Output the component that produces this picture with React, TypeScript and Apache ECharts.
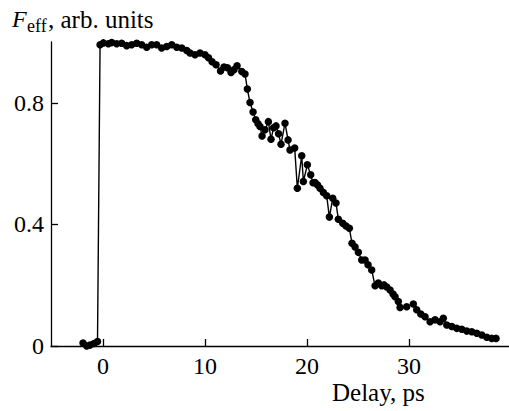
import React, { useEffect, useRef } from "react";
import * as echarts from "echarts";

const delays: number[] = [
  -1.96, -1.6, -1.27, -0.88, -0.54,
  -0.29, 0.03, 0.52, 0.85, 1.34, 1.83, 2.32, 2.81, 3.3, 3.79, 4.28, 4.77, 5.26, 5.75, 6.25,
  6.74, 7.23, 7.72, 8.21, 8.53, 9.02, 9.51, 10.0, 10.34, 10.69, 11.08, 11.52, 11.86, 12.2,
  12.55, 12.84, 13.14, 13.6, 13.92, 14.15, 14.41, 14.71, 14.97, 15.2, 15.39, 15.59, 15.88,
  16.21, 16.47, 16.72, 16.96, 17.21, 17.45, 17.84, 18.14, 18.33, 18.79, 19.05, 19.48, 19.64,
  20.03, 20.36, 20.59, 20.78, 21.03, 21.27, 21.6, 21.93, 22.19, 22.52, 22.84, 23.07, 23.5,
  23.82, 24.15, 24.41, 24.71, 25.03, 25.36, 25.69, 25.98, 26.34, 26.67, 26.99, 27.32, 27.55,
  27.81, 28.14, 28.43, 28.63, 28.95, 29.12, 29.77, 30.42, 30.75, 31.15, 31.57, 32.06, 32.55,
  33.04, 33.36, 33.7, 34.19, 34.68, 35.17, 35.66, 36.15, 36.64, 37.13, 37.62, 38.11, 38.53,
];

const feff: number[] = [
  0.01, 0.0, 0.003, 0.008, 0.015,
  0.991, 0.997, 0.994, 0.998, 0.994, 0.996, 0.988, 0.991, 0.996, 0.991, 0.983, 0.991, 0.991, 0.98, 0.985,
  0.991, 0.983, 0.98, 0.972, 0.964, 0.958, 0.964, 0.958, 0.948, 0.935, 0.925, 0.905, 0.918, 0.915,
  0.9, 0.909, 0.922, 0.903, 0.895, 0.845, 0.801, 0.77, 0.744, 0.731, 0.722, 0.691, 0.711,
  0.738, 0.68, 0.718, 0.724, 0.698, 0.664, 0.733, 0.678, 0.645, 0.651, 0.519, 0.626, 0.541,
  0.596, 0.563, 0.537, 0.538, 0.53, 0.519, 0.505, 0.494, 0.424, 0.486, 0.47, 0.417, 0.404,
  0.395, 0.387, 0.338, 0.326, 0.308, 0.283, 0.283, 0.267, 0.25, 0.198, 0.207, 0.198, 0.201,
  0.194, 0.184, 0.171, 0.162, 0.146, 0.127, 0.129, 0.138, 0.119, 0.105, 0.096, 0.08, 0.086,
  0.08, 0.091, 0.069, 0.064, 0.058, 0.055, 0.049, 0.047, 0.042, 0.036, 0.029, 0.025, 0.025,
];

const xTicks: number[] = [0, 10, 20, 30];
const yTicks: number[] = [0, 0.4, 0.8];

const FONT = "'Liberation Serif', 'Times New Roman', serif";

export default function App() {
  const ref = useRef<HTMLDivElement>(null);
  useEffect(() => {
    if (!ref.current) return;
    const chart = echarts.init(ref.current, null, { renderer: "svg" });
    const data = delays.map((d, i) => [d, feff[i]]);
    chart.setOption({
      animation: false,
      backgroundColor: "#fff",
      grid: { left: 51, right: 0, top: 42, bottom: 65 },
      xAxis: {
        type: "value",
        min: -5.1,
        max: 39.8,
        axisLine: { onZero: false, lineStyle: { color: "#000", width: 1.3 } },
        axisTick: { inside: true, length: 7, customValues: xTicks, lineStyle: { color: "#000", width: 1.3 } },
        axisLabel: { customValues: xTicks, margin: 8, color: "#000", fontFamily: FONT, fontSize: 24 },
        splitLine: { show: false },
      },
      yAxis: {
        type: "value",
        min: 0,
        max: 1.0,
        axisLine: { show: true, onZero: false, lineStyle: { color: "#000", width: 1.3 } },
        axisTick: { show: true, inside: true, length: 7, customValues: yTicks, lineStyle: { color: "#000", width: 1.3 } },
        axisLabel: { customValues: yTicks, margin: 7, color: "#000", fontFamily: FONT, fontSize: 24 },
        splitLine: { show: false },
      },
      series: [
        {
          type: "line",
          data,
          clip: false,
          symbol: "circle",
          symbolSize: 7.5,
          showSymbol: true,
          itemStyle: { color: "#000" },
          lineStyle: { color: "#000", width: 1.4 },
        },
      ],
      graphic: [
        { type: "text", x: 12, y: 19, style: { text: "F", font: `italic 24px ${FONT}`, fill: "#000", verticalAlign: "middle" } },
        { type: "text", x: 27, y: 26, style: { text: "eff", font: `18px ${FONT}`, fill: "#000", verticalAlign: "middle" } },
        { type: "text", x: 48, y: 19, style: { text: ", arb. units", font: `25px ${FONT}`, fill: "#000", verticalAlign: "middle" } },
        { type: "text", x: 332, y: 392, style: { text: "Delay, ps", font: `25px ${FONT}`, fill: "#000", verticalAlign: "middle" } },
      ],
    });
    return () => chart.dispose();
  }, []);
  return <div ref={ref} style={{ width: 509, height: 411, position: "absolute", left: 0, top: 0 }} />;
}
